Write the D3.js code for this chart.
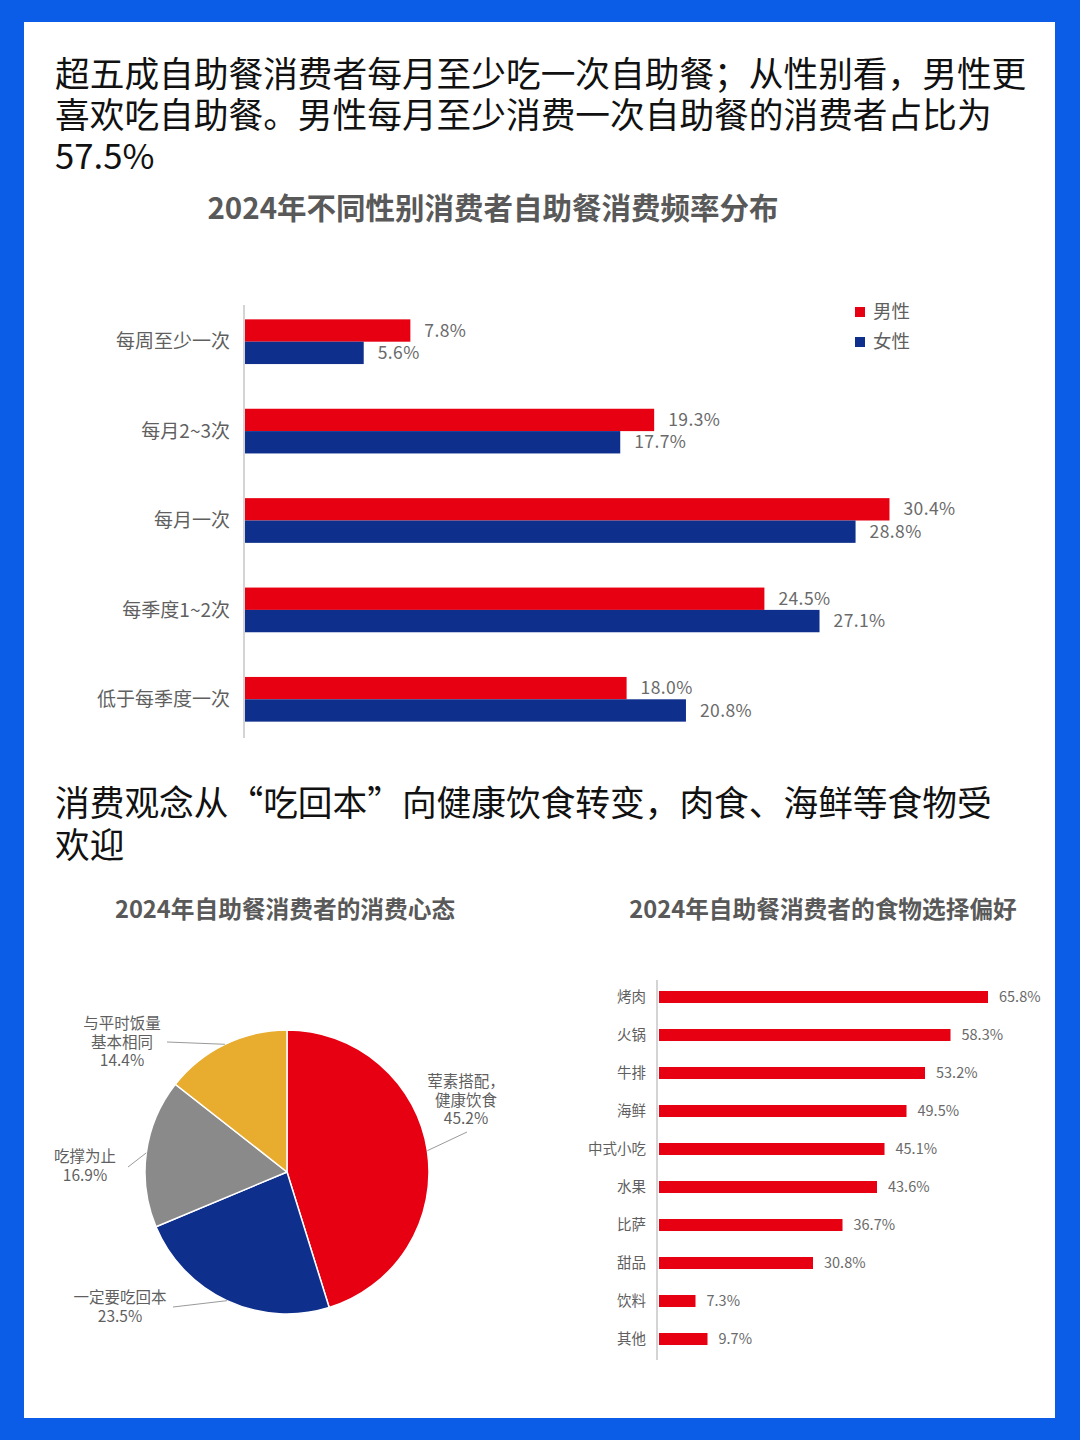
<!DOCTYPE html>
<html>
<head>
<meta charset="utf-8">
<script src="https://cdn.jsdelivr.net/npm/d3@7"></script>
<style>
  html, body { margin: 0; padding: 0; background: #0b5ce6; }
  svg { display: block; }
  text { font-family: "Noto Sans CJK SC", "Noto Sans", sans-serif; }
</style>
</head>
<body>
<svg id="page" width="1080" height="1440"></svg>
<script>
// ---------- data ----------
const freqCategories = ["每周至少一次", "每月2~3次", "每月一次", "每季度1~2次", "低于每季度一次"];
const genders = ["男性", "女性"];
const maleValues = [7.8, 19.3, 30.4, 24.5, 18.0];
const femaleValues = [5.6, 17.7, 28.8, 27.1, 20.8];

const mindsetLabels = ["荤素搭配，\n健康饮食", "一定要吃回本", "吃撑为止", "与平时饭量\n基本相同"];
const mindsetValues = [45.2, 23.5, 16.9, 14.4];

const foodCategories = ["烤肉", "火锅", "牛排", "海鲜", "中式小吃", "水果", "比萨", "甜品", "饮料", "其他"];
const foodValues = [65.8, 58.3, 53.2, 49.5, 45.1, 43.6, 36.7, 30.8, 7.3, 9.7];

const RED = "#e60012", BLUE = "#0e2f8c", GREY = "#8a8a8a", YELLOW = "#e8ad2f";
const TEXT_GREY = "#5f5f5f";

const svg = d3.select("#page");

// white panel
svg.append("rect").attr("x", 24).attr("y", 22).attr("width", 1031).attr("height", 1396).attr("fill", "#fff");

// headline paragraphs
function paragraph(lines, x, y0, lh) {
    const t = svg.append("text").attr("font-size", 34.7).attr("fill", "#111");
    lines.forEach((l, i) => t.append("tspan").attr("x", x).attr("y", y0 + i * lh).text(l));
}
paragraph(["超五成自助餐消费者每月至少吃一次自助餐；从性别看，男性更",
           "喜欢吃自助餐。男性每月至少消费一次自助餐的消费者占比为",
           "57.5%"], 55, 87, 41);
paragraph(["消费观念从“吃回本”向健康饮食转变，肉食、海鲜等食物受",
           "欢迎"], 55, 816, 42);

function chartTitle(txt, cx, y, size) {
    svg.append("text").attr("x", cx).attr("y", y).attr("text-anchor", "middle")
        .attr("font-size", size).attr("font-weight", 700).attr("fill", "#595959").text(txt);
}

// ---------- chart 1: grouped horizontal bars ----------
chartTitle("2024年不同性别消费者自助餐消费频率分布", 493, 219, 29.5);

let y1 = d3.scaleBand().domain(freqCategories).range([297, 744]).paddingInner(0.5).paddingOuter(0.25);
let yg = d3.scaleBand().domain(genders).range([0, y1.bandwidth()]);
let x1 = d3.scaleLinear().domain([0, 35]).range([245, 987]);

let rows1 = freqCategories.map((c, i) => ({cat: c, vals: [maleValues[i], femaleValues[i]]}));

svg.append("line").attr("x1", 244).attr("x2", 244).attr("y1", 305).attr("y2", 738)
    .attr("stroke", "#d4d4d4").attr("stroke-width", 2);

let g1 = svg.append("g").selectAll("g").data(rows1).enter().append("g")
    .attr("transform", d => `translate(0,${y1(d.cat)})`);

g1.selectAll("rect").data(d => d.vals.map((v, j) => ({g: genders[j], v: v}))).enter().append("rect")
    .attr("x", x1(0))
    .attr("y", d => yg(d.g))
    .attr("height", yg.bandwidth())
    .attr("width", d => x1(d.v) - x1(0))
    .attr("fill", d => d.g === "男性" ? RED : BLUE);

g1.selectAll("text.val").data(d => d.vals.map((v, j) => ({g: genders[j], v: v}))).enter().append("text")
    .attr("class", "val")
    .attr("x", d => x1(d.v) + 14)
    .attr("y", d => yg(d.g) + yg.bandwidth() / 2)
    .attr("dy", "0.35em")
    .attr("font-size", 17.5).attr("letter-spacing", 0.4).attr("fill", "#6a6a6a")
    .text(d => d.v.toFixed(1) + "%");

svg.append("g").selectAll("text").data(freqCategories).enter().append("text")
    .attr("x", 230)
    .attr("y", d => y1(d) + y1.bandwidth() / 2)
    .attr("dy", "0.35em")
    .attr("text-anchor", "end")
    .attr("font-size", 19).attr("fill", TEXT_GREY)
    .text(d => d);

// legend
let lg = svg.append("g").selectAll("g").data(genders).enter().append("g")
    .attr("transform", (d, i) => `translate(855,${312 + i * 30})`);
lg.append("rect").attr("x", 0).attr("y", -5).attr("width", 10).attr("height", 10)
    .attr("fill", d => d === "男性" ? RED : BLUE);
lg.append("text").attr("x", 18).attr("dy", "0.35em").attr("font-size", 18.5).attr("fill", TEXT_GREY).text(d => d);

// ---------- chart 2: pie ----------
chartTitle("2024年自助餐消费者的消费心态", 285, 918, 23.7);

const pieCx = 287, pieCy = 1172, pieR = 142;
let pieColors = [RED, BLUE, GREY, YELLOW];
let pie = d3.pie().sort(null).value(d => d.v);
let arc = d3.arc().innerRadius(0).outerRadius(pieR);
let slices = pie(mindsetLabels.map((l, i) => ({label: l, v: mindsetValues[i]})));

let pg = svg.append("g").attr("transform", `translate(${pieCx},${pieCy})`);
pg.selectAll("path").data(slices).enter().append("path")
    .attr("d", arc)
    .attr("fill", (d, i) => pieColors[i])
    .attr("stroke", "#fff").attr("stroke-width", 1.5);

// leader end point (relative to pie centre) and text block offset
const pieLabelLayout = [
    {end: [180, -40], tx: 179, ty: -90},
    {end: [-114, 135], tx: -167, ty: 126},
    {end: [-159, -5], tx: -202, ty: -15},
    {end: [-120, -130], tx: -165, ty: -148}
];
slices.forEach((s, i) => {
    let a = (s.startAngle + s.endAngle) / 2;
    let p0 = [Math.sin(a) * pieR, -Math.cos(a) * pieR];
    let L = pieLabelLayout[i];
    pg.append("line").attr("x1", p0[0]).attr("y1", p0[1]).attr("x2", L.end[0]).attr("y2", L.end[1])
        .attr("stroke", "#9a9a9a").attr("stroke-width", 1);
    let lines = s.data.label.split("\n").concat([s.data.v.toFixed(1) + "%"]);
    let t = pg.append("text").attr("text-anchor", "middle").attr("font-size", 15.5).attr("fill", TEXT_GREY);
    lines.forEach((l, k) => t.append("tspan").attr("x", L.tx).attr("y", L.ty + k * 18.5).attr("dy", "0.35em").text(l));
});

// ---------- chart 3: food preference bars ----------
chartTitle("2024年自助餐消费者的食物选择偏好", 823, 918, 23.7);

let y3 = d3.scaleBand().domain(foodCategories).range([978, 1358]).paddingInner(0.684).paddingOuter(0.342);
let x3 = d3.scaleLinear().domain([0, 70]).range([659, 1009]);

svg.append("line").attr("x1", 657).attr("x2", 657).attr("y1", 980).attr("y2", 1360)
    .attr("stroke", "#d4d4d4").attr("stroke-width", 2);

let g3 = svg.append("g");
g3.selectAll("rect").data(foodCategories).enter().append("rect")
    .attr("x", x3(0))
    .attr("y", d => y3(d))
    .attr("height", y3.bandwidth())
    .attr("width", (d, i) => x3(foodValues[i]) - x3(0))
    .attr("fill", RED);

g3.selectAll("text.val").data(foodCategories).enter().append("text")
    .attr("class", "val")
    .attr("x", (d, i) => x3(foodValues[i]) + 11)
    .attr("y", d => y3(d) + y3.bandwidth() / 2)
    .attr("dy", "0.35em")
    .attr("font-size", 14.5).attr("fill", "#6a6a6a")
    .text((d, i) => foodValues[i].toFixed(1) + "%");

g3.selectAll("text.cat").data(foodCategories).enter().append("text")
    .attr("class", "cat")
    .attr("x", 646)
    .attr("y", d => y3(d) + y3.bandwidth() / 2)
    .attr("dy", "0.35em")
    .attr("text-anchor", "end")
    .attr("font-size", 14.5).attr("fill", TEXT_GREY)
    .text(d => d);
</script>
</body>
</html>
